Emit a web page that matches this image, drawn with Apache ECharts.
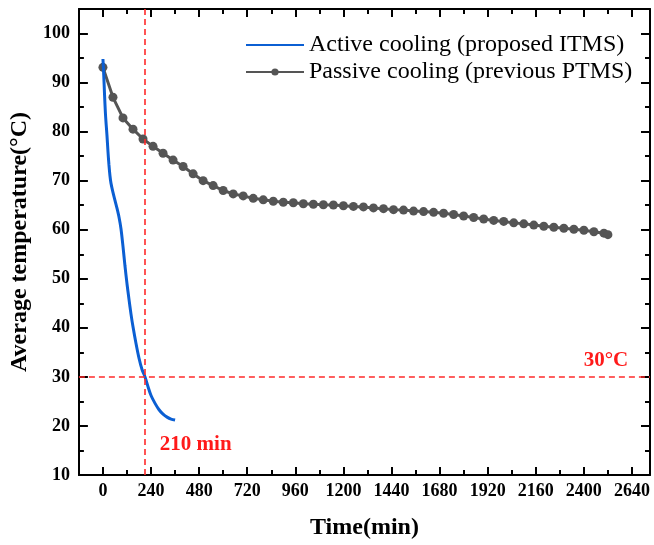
<!DOCTYPE html>
<html>
<head>
<meta charset="utf-8">
<script src="https://cdn.jsdelivr.net/npm/echarts@6/dist/echarts.min.js"></script>
<style>
html,body{margin:0;padding:0;background:#fff;}
#chart{width:654px;height:545px;}
</style>
</head>
<body>
<div id="chart"></div>
<script>
// ---- data ----
const activeTime = [0, 4, 8, 12, 16, 20, 25, 30, 35, 40, 50, 60, 70, 80, 90, 100, 110, 120, 130, 140, 150, 165, 180, 195, 210, 225, 240, 260, 280, 300, 320, 340, 360];
const activeTemp = [94.8, 91.5, 87.5, 84, 81.5, 79.3, 76, 73.2, 71, 69.5, 67.6, 66, 64.4, 62.6, 60.2, 56.6, 52.6, 49, 45.8, 42.8, 40.2, 36.8, 33.8, 31.5, 30, 28, 26.2, 24.6, 23.3, 22.4, 21.8, 21.4, 21.2];

const passiveTime = [0, 50, 100, 150, 200, 250, 300, 350, 400, 450, 500, 550, 600, 650, 700, 750, 800, 850, 900, 950, 1000, 1050, 1100, 1150, 1200, 1250, 1300, 1350, 1400, 1450, 1500, 1550, 1600, 1650, 1700, 1750, 1800, 1850, 1900, 1950, 2000, 2050, 2100, 2150, 2200, 2250, 2300, 2350, 2400, 2450, 2500, 2520];
const passiveTemp = [93.1, 87, 82.8, 80.5, 78.5, 77, 75.6, 74.2, 72.9, 71.4, 70, 69, 68, 67.3, 66.9, 66.4, 66.1, 65.8, 65.6, 65.5, 65.3, 65.2, 65.1, 65.05, 64.9, 64.75, 64.65, 64.45, 64.3, 64.1, 64.0, 63.8, 63.7, 63.55, 63.35, 63.1, 62.8, 62.5, 62.2, 61.9, 61.7, 61.4, 61.2, 60.95, 60.7, 60.5, 60.3, 60.1, 59.9, 59.6, 59.3, 59.0];

const xTicks = [0, 240, 480, 720, 960, 1200, 1440, 1680, 1920, 2160, 2400, 2640];
const xMinorTicks = [-120, 120, 360, 600, 840, 1080, 1320, 1560, 1800, 2040, 2280, 2520];
const yTicks = [10, 20, 30, 40, 50, 60, 70, 80, 90, 100];
const yMinorTicks = [15, 25, 35, 45, 55, 65, 75, 85, 95];

const seriesNames = ['Active cooling (proposed ITMS)', 'Passive cooling (previous PTMS)'];
const crossTime = 210;
const crossTemp = 30;

// ---- chart ----
const FONT = 'Liberation Serif';
const xMin = -120, xMax = 2730, yMin = 10, yMax = 105;
const zip = (a, b) => a.map((v, i) => [v, b[i]]);
const plain = v => String(v);

function xAxisDef(pos, values, len, showLabel, showLine) {
  return {
    type: 'value', position: pos, min: xMin, max: xMax,
    axisLine: {show: showLine, onZero: false, lineStyle: {color: '#000', width: 2}},
    axisTick: {show: true, inside: true, length: len, customValues: values, lineStyle: {color: '#000', width: 2}},
    axisLabel: {show: showLabel, customValues: values, formatter: plain, margin: 7, color: '#000', fontFamily: FONT, fontWeight: 'bold', fontSize: 18},
    splitLine: {show: false}
  };
}
function yAxisDef(pos, values, len, showLabel, showLine) {
  return {
    type: 'value', position: pos, min: yMin, max: yMax,
    axisLine: {show: showLine, onZero: false, lineStyle: {color: '#000', width: 2}},
    axisTick: {show: true, inside: true, length: len, customValues: values, lineStyle: {color: '#000', width: 2}},
    axisLabel: {show: showLabel, customValues: values, formatter: plain, margin: 9, color: '#000', fontFamily: FONT, fontWeight: 'bold', fontSize: 18},
    splitLine: {show: false}
  };
}

const xMain = xAxisDef('bottom', xTicks, 8, true, true);
xMain.name = 'Time(min)';
xMain.nameLocation = 'middle';
xMain.nameGap = 41;
xMain.nameTextStyle = {color: '#000', fontFamily: FONT, fontWeight: 'bold', fontSize: 24};

const yMain = yAxisDef('left', yTicks, 9, true, true);
yMain.name = 'Average temperature(°C)';
yMain.nameLocation = 'middle';
yMain.nameGap = 34;
yMain.nameTextStyle = {color: '#000', fontFamily: FONT, fontWeight: 'bold', fontSize: 24};

const option = {
  animation: false,
  backgroundColor: '#fff',
  grid: {left: 78, right: 4, top: 9, bottom: 69, containLabel: false},
  legend: {
    orient: 'vertical', left: 245, top: 33, padding: 0,
    itemWidth: 58, itemHeight: 9, itemGap: 3,
    data: [
      {name: seriesNames[0], itemStyle: {opacity: 0}},
      {name: seriesNames[1]}
    ],
    textStyle: {color: '#000', fontFamily: FONT, fontSize: 24}
  },
  xAxis: [
    xMain,
    xAxisDef('bottom', xMinorTicks, 5, false, false),
    xAxisDef('top', xTicks, 8, false, true),
    xAxisDef('top', xMinorTicks, 5, false, false)
  ],
  yAxis: [
    yMain,
    yAxisDef('left', yMinorTicks, 5, false, false),
    yAxisDef('right', yTicks, 9, false, true),
    yAxisDef('right', yMinorTicks, 5, false, false)
  ],
  series: [
    {
      name: seriesNames[1], type: 'line', xAxisIndex: 0, yAxisIndex: 0,
      data: zip(passiveTime, passiveTemp),
      symbol: 'circle', symbolSize: 9, showSymbol: true,
      lineStyle: {color: '#555', width: 3},
      itemStyle: {color: '#555'},
      z: 2
    },
    {
      name: seriesNames[0], type: 'line', xAxisIndex: 0, yAxisIndex: 0,
      data: zip(activeTime, activeTemp),
      symbol: 'none', smooth: 0.3,
      lineStyle: {color: '#0b5fd3', width: 3},
      itemStyle: {color: '#0b5fd3'},
      z: 3,
      markLine: {
        silent: true, symbol: 'none',
        lineStyle: {color: '#ff2a2a', width: 1.6, type: [6, 4]},
        label: {show: false},
        data: [{xAxis: crossTime}, {yAxis: crossTemp}]
      },
      markPoint: {
        silent: true, symbol: 'circle', symbolSize: 0,
        label: {show: true, formatter: '{b}', color: '#ff1a1a', fontFamily: FONT, fontWeight: 'bold', fontSize: 21},
        data: [
          {name: crossTime + ' min', coord: [463, 16.3]},
          {name: crossTemp + '°C', coord: [2510, 33.3]}
        ]
      }
    }
  ]
};

const chart = echarts.init(document.getElementById('chart'), null, {renderer: 'canvas'});
chart.setOption(option);
</script>
</body>
</html>
